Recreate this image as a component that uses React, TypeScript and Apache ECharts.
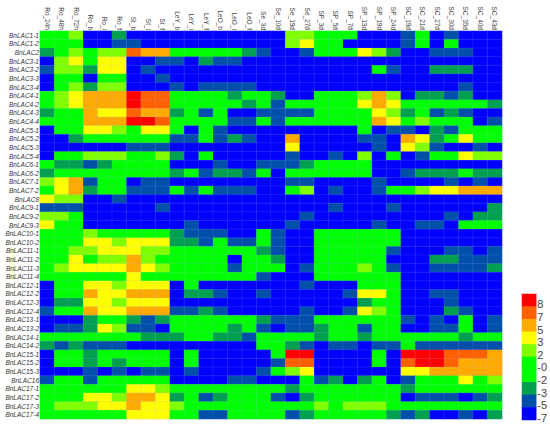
import React, { useEffect, useRef } from "react";
import * as echarts from "echarts";

const stages = ["Ro_24h","Ro_48h","Ro_72h","Ro_b","Ro_i","Ro_f","St_b","St_i","St_f","LeY_b","LeY_i","LeY_f","LeO_b","LeO_i","LeO_f","Se_3d","Se_10d","Se_19d","Se_27d","SP_3d","SP_5d","SP_7d","SP_13d","SP_19d","SP_24d","SC_19d","SC_21d","SC_27d","SC_30d","SC_35d","SC_40d","SC_43d"];
const genes = ["BnLAC1-1","BnLAC1-2","BnLAC2","BnLAC3-1","BnLAC3-2","BnLAC3-3","BnLAC3-4","BnLAC4-1","BnLAC4-2","BnLAC4-3","BnLAC4-4","BnLAC5-1","BnLAC5-2","BnLAC5-3","BnLAC5-4","BnLAC6-1","BnLAC6-2","BnLAC7-1","BnLAC7-2","BnLAC8","BnLAC9-1","BnLAC9-2","BnLAC9-3","BnLAC10-1","BnLAC10-2","BnLAC11-1","BnLAC11-2","BnLAC11-3","BnLAC11-4","BnLAC12-1","BnLAC12-2","BnLAC12-3","BnLAC12-4","BnLAC13-1","BnLAC13-2","BnLAC14-1","BnLAC14-2","BnLAC15-1","BnLAC15-2","BnLAC15-3","BnLAC16","BnLAC17-1","BnLAC17-2","BnLAC17-3","BnLAC17-4"];

// expression levels
const B = -7, S = -5, G = -3, g = 0, c = 2, y = 3, o = 5, d = 7, r = 8;

const expression = [
  [g,g,c,B,B,G,B,B,B,B,B,B,B,B,B,B,B, c,c,g,g,g,B,B,B,S,g,B,S,B,B,B],
  [g,g,g,B,B,S,S,B,B,B,B,B,B,B,B,B,B, c,y,g,g,B,B,B,B,S,g,B,g,B,B,B],
  [G,g,c,g,c,c,d,o,o,g,g,g,g,g,G,S,B, B,S,g,g,g,y,c,G,B,B,S,S,S,B,B],
  [B,c,y,g,y,y,B,B,S,S,B,G,S,S,B,B,B, B,B,B,B,B,B,B,B,B,B,B,B,B,B,B],
  [S,c,c,G,y,y,B,S,B,B,B,B,B,B,B,B,B, B,B,B,B,B,B,g,S,B,B,G,G,G,B,B],
  [B,g,g,B,g,g,B,B,S,B,B,B,B,B,B,B,B, B,B,B,B,B,B,B,B,B,B,B,B,B,B,B],
  [B,g,c,G,c,c,B,B,B,S,B,S,S,S,S,B,B, B,B,B,B,B,B,B,B,B,B,B,B,S,B,B],
  [g,c,y,o,o,o,r,d,d,g,g,g,g,G,g,g,G, B,B,g,g,g,c,o,c,B,G,G,S,G,B,B],
  [g,c,y,o,o,o,r,d,d,g,g,g,g,g,G,g,S, g,g,g,g,g,y,o,y,g,g,g,g,g,g,G],
  [G,g,g,o,y,y,d,o,o,G,g,S,g,B,B,S,S, S,S,g,g,g,g,y,c,G,g,S,G,S,B,B],
  [g,g,g,o,o,o,r,r,d,g,g,g,g,S,S,g,S, g,g,g,g,g,g,o,y,g,c,g,g,g,B,S],
  [B,g,g,y,y,c,g,y,y,g,B,g,S,B,B,B,B, B,B,B,B,B,g,B,S,S,B,G,S,g,g,g],
  [B,B,G,g,g,g,g,g,g,S,S,g,S,G,S,B,B, o,B,B,B,B,S,S,B,o,y,G,g,y,g,g],
  [B,B,B,B,B,B,S,S,S,B,B,B,B,B,B,B,B, y,B,B,B,B,B,S,B,y,c,S,B,B,S,B],
  [B,g,g,c,c,c,g,g,c,G,B,g,B,B,B,B,B, S,B,B,S,B,c,B,g,B,S,g,g,y,c,c],
  [g,G,G,S,G,g,g,g,g,B,B,B,S,B,B,S,S, S,G,g,g,g,g,B,B,B,B,B,B,B,B,B],
  [G,g,g,g,g,g,g,g,g,G,g,S,G,G,S,g,B, g,g,g,g,g,g,B,B,S,G,G,G,g,G,G],
  [c,y,o,S,g,g,B,S,S,B,B,B,B,B,B,B,B, S,S,B,B,B,B,S,B,B,B,B,S,B,S,B],
  [g,y,o,G,g,g,S,S,S,g,S,g,S,S,S,B,B, g,c,B,S,B,B,S,g,g,c,y,y,o,o,o],
  [y,c,c,B,B,S,B,B,B,B,B,B,B,B,B,B,B, B,B,B,B,B,B,B,B,B,B,B,B,B,B,B],
  [S,S,S,B,B,B,B,B,S,B,B,B,B,B,B,B,B, B,B,B,S,B,B,B,S,B,B,B,B,B,B,G],
  [c,c,g,B,B,B,B,B,B,B,B,B,B,B,B,B,B, B,S,B,B,B,B,B,B,B,B,B,S,B,G,G],
  [y,g,g,B,B,B,B,B,B,B,S,B,B,B,B,B,B, S,B,B,B,B,B,S,B,B,S,S,B,g,g,g],
  [g,g,g,c,g,g,g,g,g,G,S,S,S,B,B,g,S, B,B,g,g,g,g,g,g,B,B,B,B,B,B,B],
  [g,g,g,y,y,c,y,y,y,G,G,S,g,S,S,g,S, B,B,g,g,g,g,g,g,B,B,B,B,B,B,B],
  [g,g,c,c,y,y,y,c,c,g,g,g,g,g,g,G,S, B,B,g,g,g,g,g,S,B,B,B,S,S,B,S],
  [g,g,y,g,c,c,o,c,g,g,g,g,g,B,g,g,G, B,B,g,g,g,g,g,B,B,B,G,G,S,S,S],
  [g,c,y,y,y,y,o,y,c,g,g,g,g,S,g,g,g, B,S,g,g,g,c,g,S,B,B,S,S,S,S,G],
  [g,g,g,g,g,g,y,g,g,g,g,g,g,g,g,S,B, B,B,g,g,g,g,g,g,B,B,B,B,B,B,B],
  [B,g,g,y,y,c,y,y,y,B,g,B,B,B,B,B,B, B,S,B,B,B,g,g,g,B,B,B,B,B,B,B],
  [B,g,g,o,y,y,o,o,o,B,G,G,S,B,B,S,B, B,B,B,B,S,y,y,g,B,B,S,S,B,B,B],
  [B,G,G,y,y,c,y,y,y,B,B,B,B,B,B,B,B, B,B,B,B,B,G,g,g,B,B,B,S,B,B,B],
  [S,g,g,o,y,y,o,o,o,S,S,G,S,B,B,B,B, B,S,B,B,S,y,c,g,B,B,B,G,S,B,B],
  [B,B,B,G,g,g,G,S,G,g,g,g,g,g,g,G,S, S,S,g,g,g,g,g,g,S,B,S,B,g,B,S],
  [B,S,S,G,y,c,S,S,B,g,g,g,g,G,g,S,B, S,S,G,g,g,S,g,g,B,B,S,S,g,B,S],
  [g,g,g,g,g,g,g,G,G,G,g,g,G,G,S,g,g, g,g,G,g,g,G,g,g,g,g,g,g,G,g,g],
  [G,S,G,S,S,S,B,B,B,B,B,B,B,B,B,g,g, G,S,B,S,S,B,S,S,g,S,S,S,S,S,S],
  [B,g,g,G,g,g,g,g,g,B,g,B,B,B,B,B,g, r,r,B,B,B,B,g,B,r,r,r,d,d,d,o],
  [B,g,g,G,g,G,g,g,g,B,g,B,B,B,B,B,S, d,d,B,B,B,B,g,B,d,r,r,d,o,o,o],
  [B,B,B,S,B,S,B,S,S,B,S,B,B,B,B,S,g, c,y,B,B,B,B,B,B,y,y,o,o,o,o,o],
  [S,g,g,S,g,g,g,g,g,B,B,B,B,S,S,B,B, B,g,S,G,B,G,g,B,S,g,g,g,y,g,c],
  [g,g,g,g,g,g,y,y,c,g,g,g,g,g,g,g,g, G,g,g,g,g,g,g,g,G,g,g,g,g,g,g],
  [g,g,g,y,y,c,o,o,y,G,g,S,G,g,g,g,S, B,G,g,g,g,g,g,g,B,S,S,S,B,S,G],
  [g,c,c,c,y,y,o,y,y,c,g,g,g,g,g,g,g, g,g,c,g,c,c,c,g,g,g,g,g,g,g,g],
  [g,g,g,g,g,g,y,y,y,g,g,S,S,g,g,g,g, S,G,g,g,g,g,g,G,S,G,B,B,S,B,G],
];

const keyLabels = ["8","7","5","3","2","-0","-2","-3","-5","-7"];
const keyValues = [8,7,5,3,2,0,-2,-3,-5,-7];

const palette = [
  { value: 8, color: "#ff0000" },
  { value: 7, color: "#ff6000" },
  { value: 5, color: "#ffaa00" },
  { value: 3, color: "#ffff00" },
  { value: 2, color: "#7fff00" },
  { value: 0, color: "#00ff00" },
  { value: -2, color: "#00ff00" },
  { value: -3, color: "#00a050" },
  { value: -5, color: "#0050aa" },
  { value: -7, color: "#0000ff" },
];

const font = "'Liberation Sans', Arial, sans-serif";

export default function App() {
  const ref = useRef<HTMLDivElement>(null);
  useEffect(() => {
    const chart = echarts.init(ref.current!, undefined, { renderer: "svg" });
    const cells: number[][] = [];
    expression.forEach((row, j) => row.forEach((v, i) => cells.push([i, j, v])));
    chart.setOption({
      animation: false,
      backgroundColor: "#fff",
      grid: [
        { left: 40, top: 31, width: 462, height: 388 },
        { left: 522, top: 294, width: 15.5, height: 126 },
      ],
      xAxis: [
        {
          type: "category", data: stages, position: "top", gridIndex: 0,
          axisLine: { show: false }, axisTick: { show: false }, splitLine: { show: false },
          axisLabel: { rotate: 90, interval: 0, fontSize: 6.5, margin: 1, color: "#444", fontFamily: font },
        },
        {
          type: "category", data: ["key"], gridIndex: 1, show: false,
        },
      ],
      yAxis: [
        {
          type: "category", data: genes, inverse: true, gridIndex: 0,
          axisLine: { show: false }, axisTick: { show: false }, splitLine: { show: false },
          axisLabel: { interval: 0, fontSize: 6.5, fontStyle: "italic", margin: 1, color: "#333", fontFamily: font },
        },
        {
          type: "category", data: keyLabels, inverse: true, gridIndex: 1, position: "right",
          axisLine: { show: false }, axisTick: { show: false }, splitLine: { show: false },
          axisLabel: { interval: 0, fontSize: 11, margin: 1, color: "#444", fontFamily: font, verticalAlign: "top", lineHeight: 8 },
        },
      ],
      visualMap: {
        show: false, type: "piecewise", dimension: 2, seriesIndex: [0, 1],
        pieces: palette,
      },
      series: [
        {
          type: "heatmap", xAxisIndex: 0, yAxisIndex: 0, data: cells,
          itemStyle: { borderColor: "rgba(170,170,255,0.3)", borderWidth: 0.5 },
          emphasis: { disabled: true },
        },
        {
          type: "heatmap", xAxisIndex: 1, yAxisIndex: 1,
          data: keyValues.map((v, i) => [0, i, v]),
          emphasis: { disabled: true },
        },
      ],
    });
    return () => chart.dispose();
  }, []);
  return <div ref={ref} style={{ position: "absolute", left: 0, top: 0, width: 550, height: 426 }} />;
}
